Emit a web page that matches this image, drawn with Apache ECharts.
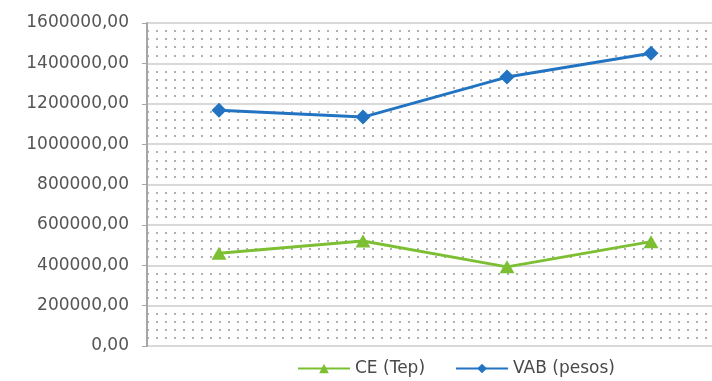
<!DOCTYPE html>
<html>
<head>
<meta charset="utf-8">
<script src="https://cdn.jsdelivr.net/npm/echarts@6/dist/echarts.min.js"></script>
<style>
html,body{margin:0;padding:0;background:#fff;overflow:hidden;width:712px;height:381px;}
#chart{width:723px;height:381px;}
</style>
</head>
<body>
<div id="chart"></div>
<script>
const categories = ['1', '2', '3', '4'];
const ceTep = [460000, 520000, 392000, 517000];
const vabPesos = [1168000, 1134000, 1332000, 1450000];
const seriesNames = ['CE (Tep)', 'VAB (pesos)'];

const chart = echarts.init(document.getElementById('chart'), null, {renderer: 'canvas'});
chart.setOption({
  animation: false,
  backgroundColor: '#ffffff',
  grid: {left: 147, right: 0, top: 23, bottom: 35},
  legend: {
    left: 297, top: 360, padding: 0,
    itemWidth: 52, itemHeight: 12, itemGap: 30,
    textStyle: {fontFamily: 'DejaVu Sans', fontSize: 17, color: '#4a4a4a'},
    data: seriesNames
  },
  xAxis: {
    type: 'category',
    data: categories,
    boundaryGap: true,
    axisLine: {show: false},
    axisTick: {show: false},
    axisLabel: {show: false},
    splitLine: {show: false}
  },
  yAxis: {
    type: 'value',
    min: 0, max: 1600000, interval: 200000,
    axisLine: {show: true, lineStyle: {color: '#a6a6a6', width: 2}},
    axisTick: {show: true, length: 5, lineStyle: {color: '#a6a6a6'}},
    axisLabel: {
      margin: 18,
      fontFamily: 'DejaVu Sans', fontSize: 17, color: '#555555',
      formatter: v => v + ',00'
    },
    splitLine: {show: true, lineStyle: {color: '#d9d9d9', width: 2}},
    minorTick: {show: false, splitNumber: 5},
    minorSplitLine: {show: true, lineStyle: {color: '#b0b0b0', width: 2, type: [2, 7]}}
  },
  series: [
    {
      name: seriesNames[0], type: 'line', data: ceTep,
      symbol: 'triangle', symbolSize: [15, 13],
      lineStyle: {color: '#7cbf33', width: 3},
      itemStyle: {color: '#7cbf33'}
    },
    {
      name: seriesNames[1], type: 'line', data: vabPesos,
      symbol: 'diamond', symbolSize: [15, 15],
      lineStyle: {color: '#2274c3', width: 3},
      itemStyle: {color: '#2274c3'}
    }
  ]
});
</script>
</body>
</html>
